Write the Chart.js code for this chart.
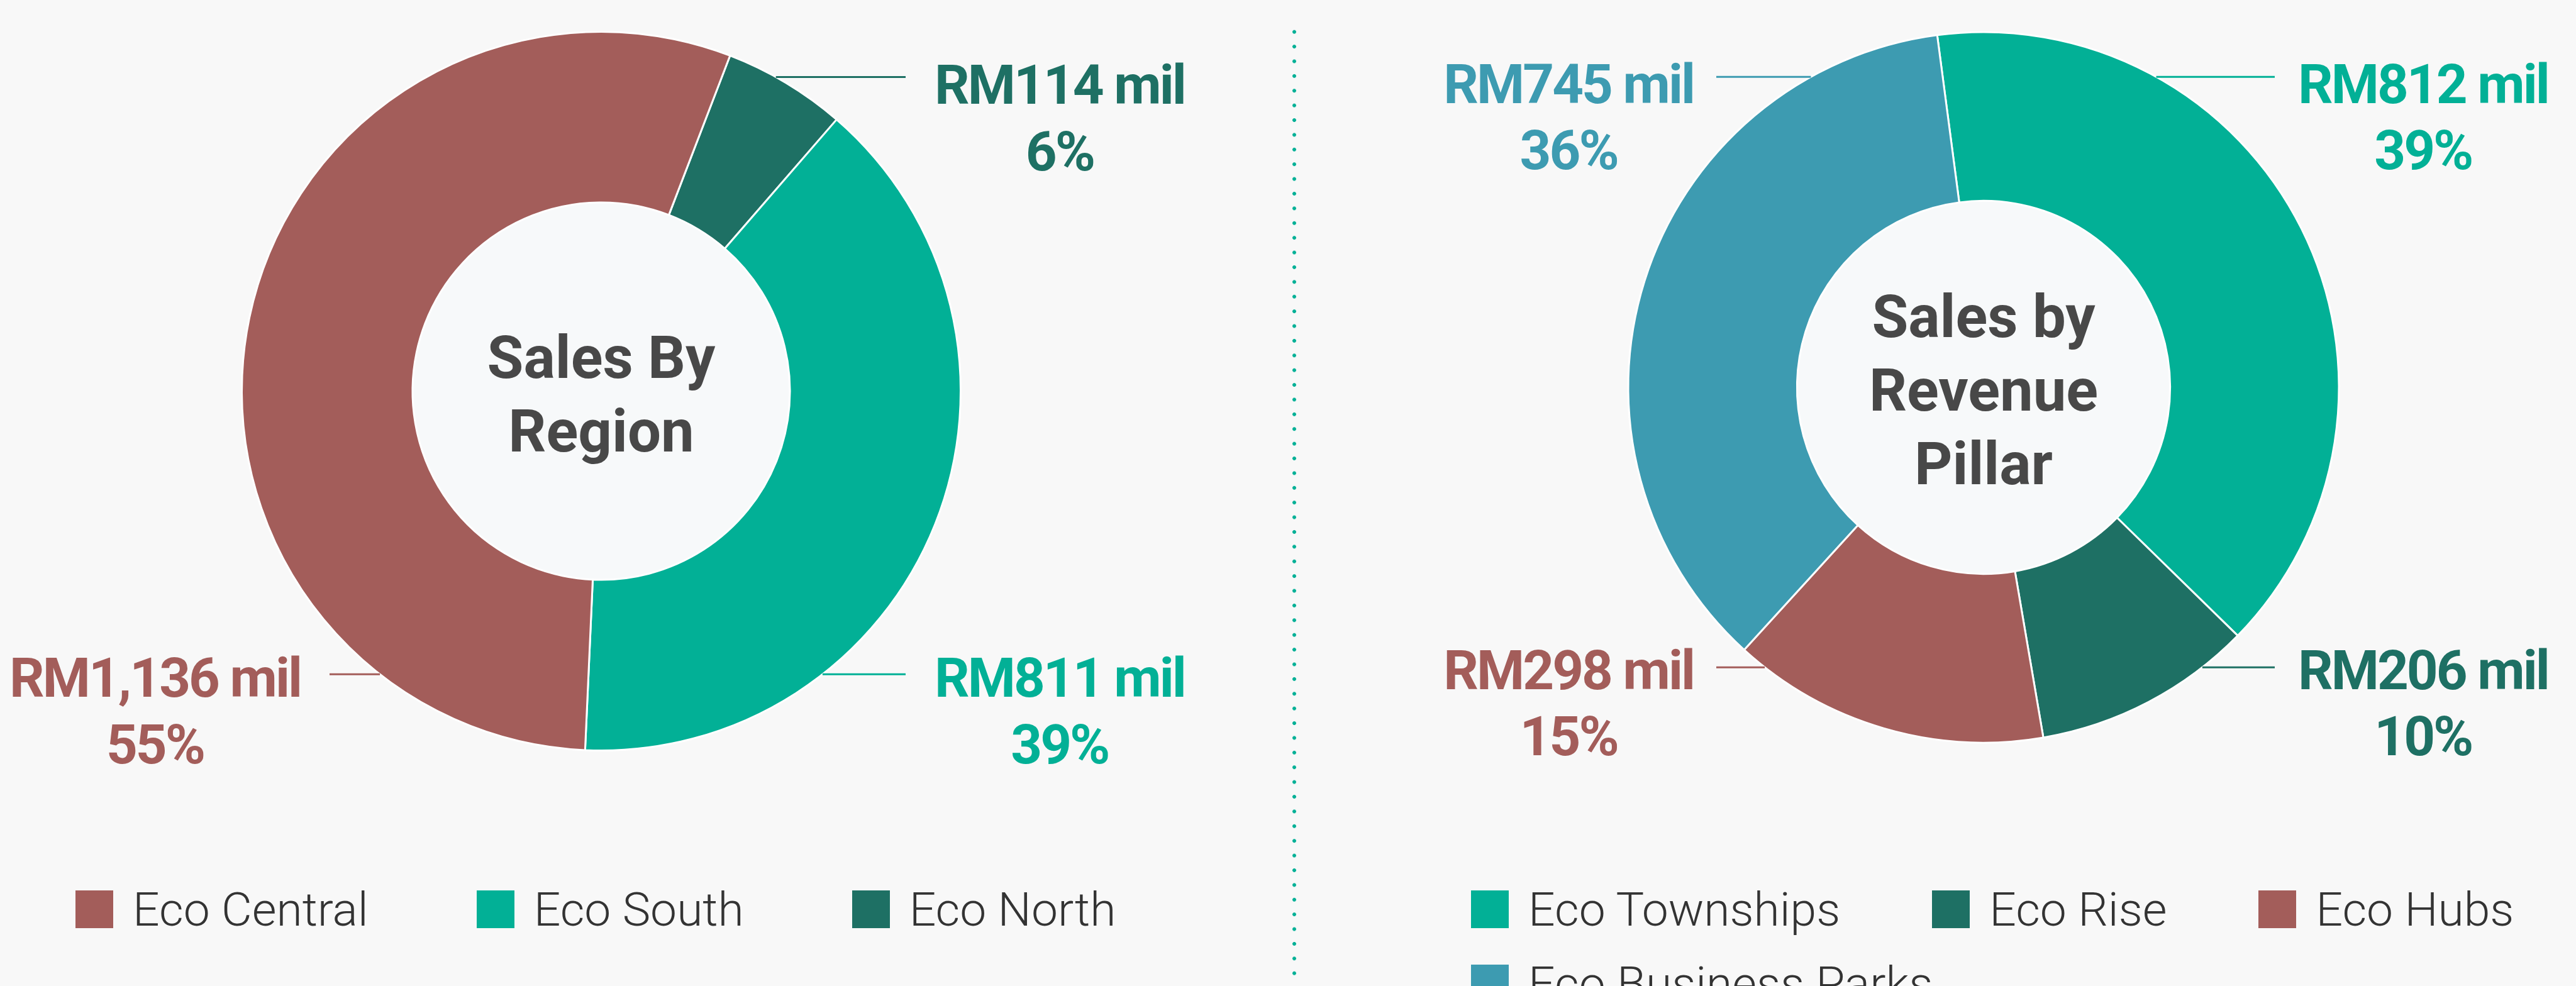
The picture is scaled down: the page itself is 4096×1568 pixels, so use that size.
<!DOCTYPE html>
<html lang="en">
<head>
  <meta charset="UTF-8" />
  <title>Sales By Region / Sales by Revenue Pillar</title>
  <script src="https://cdn.jsdelivr.net/npm/chart.js"></script>
  <style>
    html, body { margin: 0; padding: 0; background: #f8f8f8; }
    body { width: 4096px; height: 1568px; position: relative; overflow: hidden; font-family: Roboto, sans-serif; }
    canvas { position: absolute; top: 0; }
    #regionChart { left: 0; }
    #pillarChart { left: 2058px; }
    .divider {
      position: absolute; left: 2055px; top: 39px; width: 6px; height: 1529px;
      background: radial-gradient(circle, #02b096 2.6px, rgba(2,176,150,0) 3.2px) 0 0 / 6px 23.4px repeat-y;
    }
    .legend { position: absolute; top: 1416px; display: flex; flex-wrap: wrap; row-gap: 58px; }
    .legend .item { display: flex; align-items: center; height: 60px; }
    .legend .box { width: 60px; height: 60px; margin-right: 31px; }
    .legend .txt { font: 300 75px/60px Roboto; color: #333; white-space: nowrap; }
    #regionLegend { left: 120px; column-gap: 172px; }
    #pillarLegend { left: 2339px; width: 1700px; column-gap: 146px; }
  </style>
</head>
<body>
  <canvas id="regionChart" width="2058" height="1568"></canvas>
  <canvas id="pillarChart" width="2038" height="1568"></canvas>
  <div class="divider"></div>
  <div class="legend" id="regionLegend"></div>
  <div class="legend" id="pillarLegend"></div>

  <script>
    // sales by region (RM mil)
    const regionLabels = ['Eco Central', 'Eco South', 'Eco North'];
    const regionSales = [1136, 811, 114];
    const regionPct = [55, 39, 6];
    const regionColors = ['#a35d5a', '#02b096', '#1e7064'];

    // sales by revenue pillar (RM mil)
    const pillarLabels = ['Eco Townships', 'Eco Rise', 'Eco Hubs', 'Eco Business Parks'];
    const pillarSales = [812, 206, 298, 745];
    const pillarPct = [39, 10, 15, 36];
    const pillarColors = ['#02b096', '#1e7064', '#a35d5a', '#3d9bb1'];

    // where each callout sits: [side, row]
    const regionPlace = {
      'Eco Central': ['left', 'bottom'],
      'Eco South': ['right', 'bottom'],
      'Eco North': ['right', 'top']
    };
    const pillarPlace = {
      'Eco Townships': ['right', 'top'],
      'Eco Rise': ['right', 'bottom'],
      'Eco Hubs': ['left', 'bottom'],
      'Eco Business Parks': ['left', 'top']
    };

    const calloutPlugin = {
      id: 'callouts',
      beforeDatasetsDraw(chart, args, opts) {
        const arc = chart.getDatasetMeta(0).data[0];
        const ctx = chart.ctx;
        ctx.save();
        ctx.fillStyle = '#f7f9fa';
        ctx.beginPath();
        ctx.arc(arc.x, arc.y, arc.innerRadius, 0, Math.PI * 2);
        ctx.fill();
        ctx.restore();
      },
      afterDatasetsDraw(chart, args, opts) {
        const { x: cx, y: cy, outerRadius: r } = chart.getDatasetMeta(0).data[0];
        const ds = chart.data.datasets[0];
        const ctx = chart.ctx;
        ctx.save();

        // centre title
        ctx.fillStyle = '#484848';
        ctx.font = 'bold 94px Roboto';
        ctx.textAlign = 'center';
        ctx.textBaseline = 'alphabetic';
        const lh = 117;
        const y0 = cy + 4 - ((opts.title.length - 1) * lh - 66) / 2;
        opts.title.forEach((t, i) => ctx.fillText(t, cx, y0 + i * lh));

        // value callouts
        chart.data.labels.forEach((label, i) => {
          const [side, row] = opts.place[label];
          const color = ds.backgroundColor[i];
          const dir = side === 'right' ? 1 : -1;
          const lineY = cy + (row === 'top' ? -0.874 : 0.788) * r;
          const edgeX = cx + dir * Math.sqrt(r * r - (lineY - cy) ** 2);
          const endX = cx + dir * opts[side].line;

          ctx.strokeStyle = color;
          ctx.lineWidth = 3;
          ctx.beginPath();
          ctx.moveTo(edgeX, lineY);
          ctx.lineTo(endX, lineY);
          ctx.stroke();

          const base1 = cy + (row === 'top' ? -0.80 : 0.85) * r;
          const base2 = base1 + 0.186 * r;
          const text1 = 'RM' + ds.data[i].toLocaleString('en-US') + ' mil';
          ctx.fillStyle = color;
          ctx.font = 'bold 87px Roboto';
          ctx.letterSpacing = '-3px';
          const w = ctx.measureText(text1).width;
          let mid;
          if (side === 'right') {
            const x0 = cx + opts.right.text;
            ctx.textAlign = 'left';
            ctx.fillText(text1, x0, base1);
            mid = x0 + w / 2;
          } else {
            const x1 = cx - opts.left.text;
            ctx.textAlign = 'right';
            ctx.fillText(text1, x1, base1);
            mid = x1 - w / 2;
          }
          ctx.textAlign = 'center';
          ctx.fillText(opts.pct[i] + '%', mid, base2);
          ctx.letterSpacing = '0px';
        });
        ctx.restore();
      }
    };

    function makeDonut(id, labels, values, colors, pct, rotation, padding, callouts) {
      return new Chart(document.getElementById(id), {
        type: 'doughnut',
        data: {
          labels: labels,
          datasets: [{
            data: values,
            backgroundColor: colors,
            borderColor: '#ffffff',
            borderWidth: 3
          }]
        },
        options: {
          responsive: false,
          animation: false,
          events: [],
          cutout: '52.5%',
          rotation: rotation,
          layout: { padding: padding },
          plugins: {
            legend: { display: false },
            tooltip: { enabled: false },
            callouts: Object.assign({ pct: pct }, callouts)
          }
        },
        plugins: [calloutPlugin]
      });
    }

    // left donut is laid out anticlockwise, so feed it in reverse order
    const rev = a => a.slice().reverse();
    makeDonut('regionChart', rev(regionLabels), rev(regionSales), rev(regionColors), rev(regionPct), 21,
      { left: 383, right: 529, top: 49, bottom: 373 },
      { title: ['Sales By', 'Region'], place: regionPlace,
        right: { line: 484, text: 530 }, left: { line: 432, text: 478 } });

    makeDonut('pillarChart', pillarLabels, pillarSales, pillarColors, pillarPct, -7.5,
      { left: 529.5, right: 375.5, top: 49.5, bottom: 385.5 },
      { title: ['Sales by', 'Revenue', 'Pillar'], place: pillarPlace,
        right: { line: 463, text: 500 }, left: { line: 425, text: 461 } });

    function buildLegend(elId, labels, colors) {
      const el = document.getElementById(elId);
      labels.forEach((label, i) => {
        const item = document.createElement('div');
        item.className = 'item';
        item.innerHTML = `<span class="box" style="background:${colors[i]}"></span><span class="txt">${label}</span>`;
        el.appendChild(item);
      });
    }
    buildLegend('regionLegend', regionLabels, regionColors);
    buildLegend('pillarLegend', pillarLabels, pillarColors);
  </script>
</body>
</html>
